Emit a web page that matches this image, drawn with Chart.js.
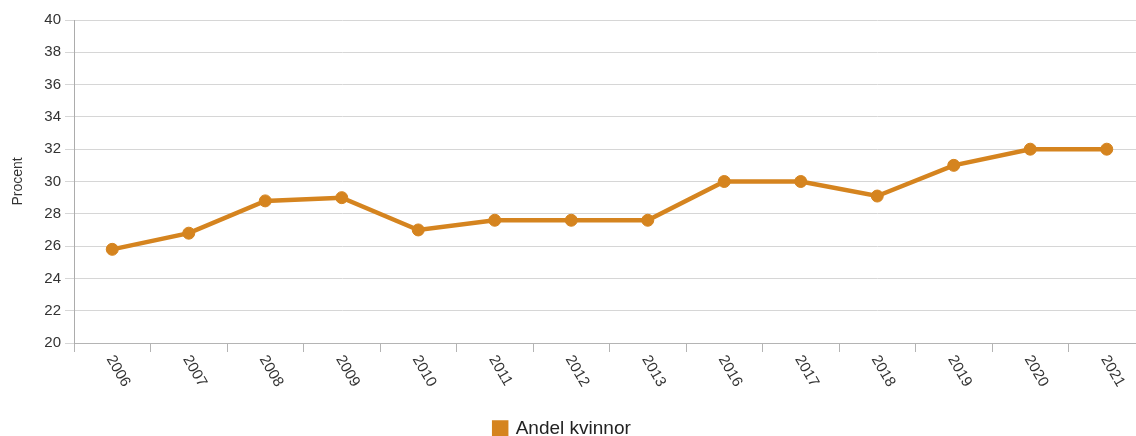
<!DOCTYPE html>
<html lang="sv">
<head>
<meta charset="utf-8">
<title>Andel kvinnor</title>
<script src="https://cdn.jsdelivr.net/npm/chart.js@4/dist/chart.umd.min.js"></script>
<style>
  html, body { margin: 0; padding: 0; background: #fff; overflow: hidden; }
  #wrap { width: 1152px; height: 436px; }
</style>
</head>
<body>
<div id="wrap"><canvas id="chart" width="1152" height="436"></canvas></div>
<script>
// Year categories along the x axis
const years = ['2006', '2007', '2008', '2009', '2010', '2011', '2012', '2013',
               '2016', '2017', '2018', '2019', '2020', '2021'];
// Share of women, percent
const shareWomen = [25.8, 26.8, 28.8, 29.0, 27.0, 27.6, 27.6, 27.6,
                    30.0, 30.0, 29.1, 31.0, 32.0, 32.0];
// Y axis range and step
const yRange = [20, 40];
const yStep = 2;

const seriesLabel = 'Andel kvinnor';
const axisTitle = 'Procent';

const FONT = '"Liberation Sans", Arial, sans-serif';
const ORANGE = '#D5841F';

// Slanted year labels below the category axis
const slantedYears = {
  id: 'slantedYears',
  afterDraw(chart) {
    const xs = chart.scales.x;
    const ctx = chart.ctx;
    ctx.save();
    ctx.font = '15px ' + FONT;
    ctx.fillStyle = '#333';
    ctx.textAlign = 'left';
    ctx.textBaseline = 'top';
    years.forEach((label, i) => {
      const px = xs.getPixelForTick(i);
      ctx.save();
      ctx.translate(px + 4, xs.top + 10);
      ctx.rotate(Math.PI / 3);
      ctx.fillText(label, 0, 0);
      ctx.restore();
    });
    ctx.restore();
  }
};

// Nudge the legend box to its place under the plot
const legendOffset = {
  id: 'legendOffset',
  afterLayout(chart) {
    const lg = chart.legend;
    if (!lg) return;
    const dx = -14.5, dy = 12;
    lg.left += dx; lg.right += dx;
    lg.top += dy; lg.bottom += dy;
  }
};

new Chart(document.getElementById('chart'), {
  type: 'line',
  data: {
    labels: years,
    datasets: [{
      label: seriesLabel,
      data: shareWomen,
      borderColor: ORANGE,
      backgroundColor: ORANGE,
      borderWidth: 4.5,
      pointRadius: 6,
      pointBorderWidth: 1,
      pointBackgroundColor: ORANGE,
      pointBorderColor: ORANGE,
      tension: 0,
      fill: false
    }]
  },
  options: {
    responsive: false,
    animation: false,
    devicePixelRatio: 1,
    layout: { padding: { top: 20, left: 6, right: 4, bottom: 0 } },
    plugins: {
      tooltip: { enabled: false },
      legend: {
        display: true,
        position: 'bottom',
        labels: {
          font: { family: FONT, size: 19 },
          color: '#222',
          boxWidth: 12,
          boxHeight: 12,
          padding: 4
        }
      }
    },
    scales: {
      x: {
        type: 'category',
        offset: true,
        grid: {
          offset: true,
          drawOnChartArea: false,
          drawTicks: true,
          tickLength: 9,
          color: '#b4b4b4'
        },
        border: { display: true, color: '#b4b4b4', width: 1 },
        ticks: { display: false },
        afterFit(scale) { scale.height = 60; }
      },
      y: {
        min: yRange[0],
        max: yRange[1],
        ticks: {
          stepSize: yStep,
          color: '#333',
          padding: 4,
          font: { family: FONT, size: 15 }
        },
        grid: {
          color: '#d6d6d6',
          lineWidth: 1,
          tickLength: 9,
          drawTicks: true
        },
        border: { display: true, color: '#acacac', width: 1 },
        title: {
          display: true,
          text: axisTitle,
          color: '#333',
          font: { family: FONT, size: 14 },
          padding: { top: 4, bottom: 4 }
        },
        afterFit(scale) { scale.width = 68; }
      }
    }
  },
  plugins: [slantedYears, legendOffset]
});
</script>
</body>
</html>
